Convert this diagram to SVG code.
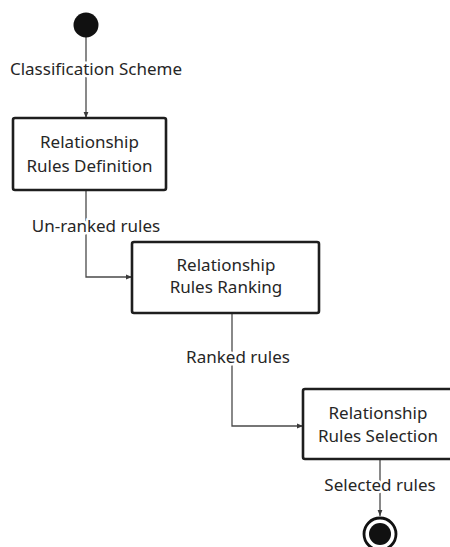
<svg xmlns="http://www.w3.org/2000/svg" width="450" height="547" viewBox="0 0 450 547">
  <defs>
    <style>
      .box { fill: #ffffff; stroke: #1e1e1e; stroke-width: 2.6; }
      .flow { fill: none; stroke: #4a4a4a; stroke-width: 1.3; }
      text { font-family: "Noto Sans", "Open Sans", sans-serif; font-size: 17px; fill: #262626; text-anchor: middle; }
      .lbl { stroke: #ffffff; stroke-width: 5; paint-order: stroke; stroke-linejoin: round; }
    </style>
    <marker id="arrow" viewBox="0 0 10 10" refX="10" refY="5" markerWidth="6" markerHeight="6" orient="auto" markerUnits="userSpaceOnUse">
      <path d="M0,1 L10,5 L0,9 z" fill="#3a3a3a"/>
    </marker>
  </defs>

  <rect width="450" height="547" fill="#ffffff"/>

  <!-- connectors -->
  <g id="connectors">
    <path class="flow" d="M86,37 V118" marker-end="url(#arrow)"/>
    <path class="flow" d="M86,190 V277 H132" marker-end="url(#arrow)"/>
    <path class="flow" d="M232,313 V426 H303" marker-end="url(#arrow)"/>
    <path class="flow" d="M380,459 V516" marker-end="url(#arrow)"/>
    <text class="lbl" x="96" y="75">Classification Scheme</text>
    <text class="lbl" x="96" y="232">Un-ranked rules</text>
    <text class="lbl" x="238" y="363">Ranked rules</text>
    <text class="lbl" x="380" y="491">Selected rules</text>
  </g>

  <!-- initial state -->
  <g id="start">
    <circle cx="86" cy="25" r="12.5" fill="#111111"/>
  </g>

  <g id="definition">
    <rect class="box" x="13" y="118" width="153" height="72" rx="2"/>
    <text x="89.5" y="148">Relationship</text>
    <text x="89.5" y="172">Rules Definition</text>
  </g>

  <g id="ranking">
    <rect class="box" x="132" y="242" width="187" height="71" rx="2"/>
    <text x="226" y="271">Relationship</text>
    <text x="226" y="293">Rules Ranking</text>
  </g>

  <g id="selection">
    <rect class="box" x="303" y="389" width="152" height="70" rx="2"/>
    <text x="378" y="419">Relationship</text>
    <text x="378" y="442">Rules Selection</text>
  </g>

  <!-- final state -->
  <g id="end">
    <circle cx="380" cy="534" r="16" fill="#ffffff" stroke="#111111" stroke-width="2.8"/>
    <circle cx="380" cy="534" r="11" fill="#111111"/>
  </g>
</svg>
